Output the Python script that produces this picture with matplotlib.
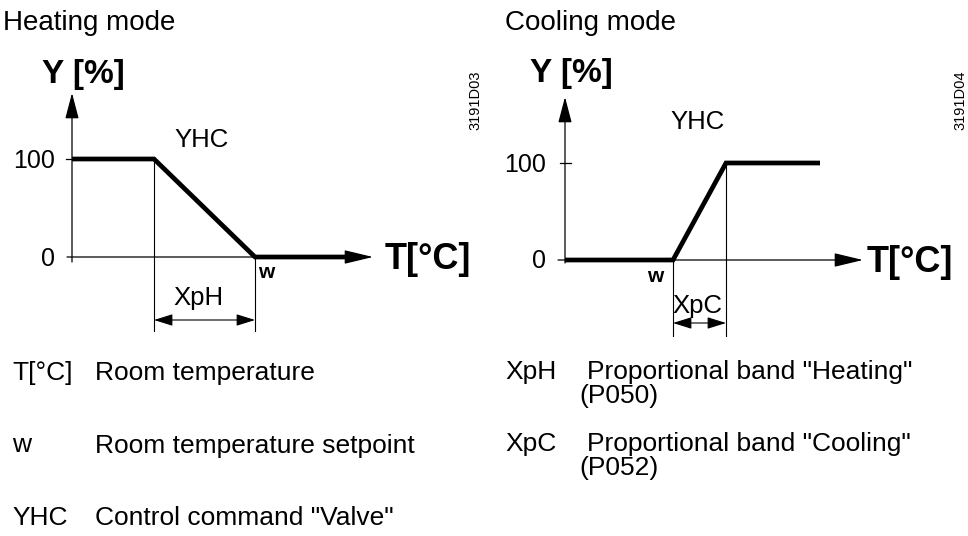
import matplotlib.pyplot as plt

plt.rcParams['font.family'] = ['Liberation Sans', 'DejaVu Sans']

W, H = 968, 536

# valve characteristic: T from the Y axis (arbitrary units), Y in %
heat_T = [0, 8.2, 18.3, 27.3]
heat_Y = [100, 100, 0, 0]
cool_T = [0, 10.8, 16.1, 25.5]
cool_Y = [0, 0, 100, 100]

y_ticks = [0, 100]
y_tick_labels = ['0', '100']

legend_left = ['T[°C]', 'w', 'YHC']
legend_left_text = ['Room temperature', 'Room temperature setpoint',
                    'Control command "Valve"']
legend_right = ['XpH', 'XpC']
legend_right_text = ['Proportional band "Heating"', 'Proportional band "Cooling"']
legend_right_par = ['(P050)', '(P052)']

fig = plt.figure(figsize=(W / 100, H / 100), dpi=100)


def panel(l, t, r, b, x0, y0, sx, sy):
    # axes in pixel box (l, t, r, b); origin of the diagram at (x0, y0)
    ax = fig.add_axes([l / W, 1 - b / H, (r - l) / W, (b - t) / H])
    ax.set_xlim((l - x0) / sx, (r - x0) / sx)
    ax.set_ylim((y0 - b) / sy, (y0 - t) / sy)
    ax.axis('off')
    return ax


def arrow(ax, p0, p1, style, hl, hw, lw=0.9):
    ax.annotate('', xy=p1, xytext=p0,
                arrowprops=dict(arrowstyle=f'{style},head_length={hl},head_width={hw}',
                                lw=lw, color='k', shrinkA=0, shrinkB=0,
                                mutation_scale=1))


def draw(ax, T, Y, sy, title, xtip, ytip, ybot, xstart, dim_lo, dim_y,
         band, band_x, band_base, w_x, w_base, yhc, tlabel, ylabel, code,
         lab_x):
    px = lambda p: p / sy  # pixels -> Y units
    # axes with arrows
    arrow(ax, (0, ybot), (0, ytip), '-|>', 16, 4.2)
    arrow(ax, (xstart, 0), (xtip, 0), '-|>', 18, 4.3)
    ax.plot([-0.55, 0.55], [100, 100], color='k', lw=0.9)
    for v, s in zip(y_ticks, y_tick_labels):
        ax.text(lab_x, v - px(8.5), s, ha='right', va='baseline', fontsize=18)

    # characteristic
    ax.plot(T, Y, color='k', lw=3.4, solid_joinstyle='miter',
            solid_capstyle='butt')

    # proportional band dimension
    i0, i1 = (1, 2)
    ax.plot([T[i0], T[i0]], [Y[i0], dim_lo], color='k', lw=0.8)
    ax.plot([T[i1], T[i1]], [Y[i1], dim_lo], color='k', lw=0.8)
    arrow(ax, (T[i0], dim_y), (T[i1], dim_y), '<|-|>', 11.5, 3.6, lw=0.8)
    ax.text(band_x, band_base, band, ha='center', va='baseline', fontsize=18.5)

    ax.text(w_x, w_base, 'w', ha='center', va='baseline', fontsize=15,
            fontweight='bold')
    ax.text(yhc[0], yhc[1], 'YHC', ha='center', va='baseline', fontsize=18.5)
    ax.text(tlabel[0], tlabel[1], 'T[°C]', ha='left', va='baseline',
            fontsize=26, fontweight='bold')
    ax.text(ylabel[0], ylabel[1], 'Y [%]', ha='left', va='baseline',
            fontsize=24, fontweight='bold')
    ax.text(title[1], title[2], title[0], ha='left', va='baseline', fontsize=20)
    ax.text(code[1], code[2], code[0], rotation=90, ha='center', va='center',
            fontsize=10.5)


# heating: origin at (72, 257), 10 px per T unit, 0.98 px per %
ax_h = panel(0, 0, 484, 345, 72, 257, 10, 0.98)
draw(ax_h, heat_T, heat_Y, 0.98,
     title=('Heating mode', -6.9, (257 - 30) / 0.98),
     xtip=30.1, ytip=(257 - 93) / 0.98, ybot=-5.1, xstart=-0.5,
     dim_lo=(257 - 331) / 0.98, dim_y=(257 - 320) / 0.98,
     band='XpH', band_x=12.6, band_base=(257 - 305) / 0.98,
     w_x=19.4, w_base=(257 - 278) / 0.98,
     yhc=(13.0, (257 - 147) / 0.98),
     tlabel=(31.3, (257 - 269) / 0.98),
     ylabel=(-3.0, (257 - 83) / 0.98),
     code=('3191D03', 40.3, (257 - 100) / 0.98),
     lab_x=-1.7)

# cooling: origin at (565, 260), 10 px per T unit, 0.97 px per %
ax_c = panel(484, 0, 968, 345, 565, 260, 10, 0.97)
draw(ax_c, cool_T, cool_Y, 0.97,
     title=('Cooling mode', -6.0, (260 - 30) / 0.97),
     xtip=29.8, ytip=(260 - 97) / 0.97, ybot=-3.1, xstart=-0.7,
     dim_lo=(260 - 336) / 0.97, dim_y=(260 - 323) / 0.97,
     band='XpC', band_x=13.2, band_base=(260 - 313) / 0.97,
     w_x=9.0, w_base=(260 - 282) / 0.97,
     yhc=(13.3, (260 - 129) / 0.97),
     tlabel=(30.2, (260 - 272) / 0.97),
     ylabel=(-3.5, (260 - 82) / 0.97),
     code=('3191D04', 39.5, (260 - 100) / 0.97),
     lab_x=-1.9)

# legend below the diagrams
for i, (k, s) in enumerate(zip(legend_left, legend_left_text)):
    base = 380 + 72.5 * i
    fig.text(12 / W, 1 - base / H, k, ha='left', va='baseline', fontsize=19)
    fig.text(95 / W, 1 - base / H, s, ha='left', va='baseline', fontsize=19)

for i, (k, s, p) in enumerate(zip(legend_right, legend_right_text, legend_right_par)):
    base = 379 + 72 * i
    fig.text(505 / W, 1 - base / H, k, ha='left', va='baseline', fontsize=19)
    fig.text(587 / W, 1 - base / H, s, ha='left', va='baseline', fontsize=19)
    fig.text(579 / W, 1 - (base + 24.5) / H, p, ha='left', va='baseline',
             fontsize=19)

fig.savefig('out.png', dpi=100, facecolor='white')
